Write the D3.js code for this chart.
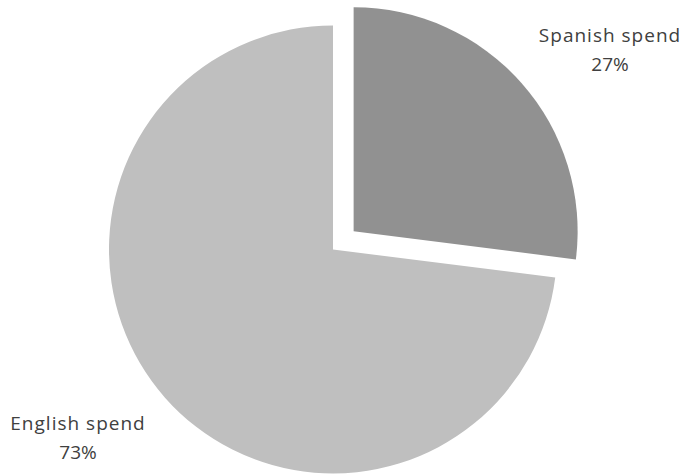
<!DOCTYPE html>
<html>
<head>
<meta charset="utf-8">
<script src="https://cdn.jsdelivr.net/npm/d3@7"></script>
<style>
  body { margin: 0; background: #fff; }
  text { font-family: "Open Sans", sans-serif; fill: #404040; }
</style>
</head>
<body>
<div id="chart"></div>
<script>
// slice data
const categories = ['Spanish spend', 'English spend']
const shares = [27, 73]
const colors = ['#919191', '#bfbfbf']
const exploded = [true, false]

const width = 687
const height = 474
const cx = 333
const cy = 249.5
const radius = 224
const explode = 27.5

const svg = d3.select('#chart')
  .append('svg')
  .attr('width', width)
  .attr('height', height)

const pie = d3.pie().sort(null).value(d => d.value)
const arc = d3.arc().innerRadius(0).outerRadius(radius)

const data = categories.map((c, i) => ({ name: c, value: shares[i], color: colors[i], exploded: exploded[i] }))
const arcs = pie(data)

const g = svg.append('g').attr('transform', `translate(${cx},${cy})`)

g.selectAll('path.slice')
  .data(arcs)
  .enter()
  .append('path')
  .attr('class', 'slice')
  .attr('fill', d => d.data.color)
  .attr('d', arc)
  .attr('transform', d => {
    if (!d.data.exploded) return null
    const mid = (d.startAngle + d.endAngle) / 2
    return `translate(${Math.sin(mid) * explode},${-Math.cos(mid) * explode})`
  })

// labels sit outside the pie, roughly along each slice's mid angle
const labelPos = [[610, 42], [78, 430]]
const labels = g.selectAll('g.label')
  .data(arcs)
  .enter()
  .append('g')
  .attr('class', 'label')
  .attr('transform', (d, i) => `translate(${labelPos[i][0] - cx},${labelPos[i][1] - cy})`)

labels.append('text')
  .attr('text-anchor', 'middle')
  .attr('font-size', 19)
  .attr('letter-spacing', 1)
  .text(d => d.data.name)

labels.append('text')
  .attr('text-anchor', 'middle')
  .attr('font-size', 19)
  .attr('y', 29)
  .text(d => `${d.data.value}%`)
</script>
</body>
</html>
